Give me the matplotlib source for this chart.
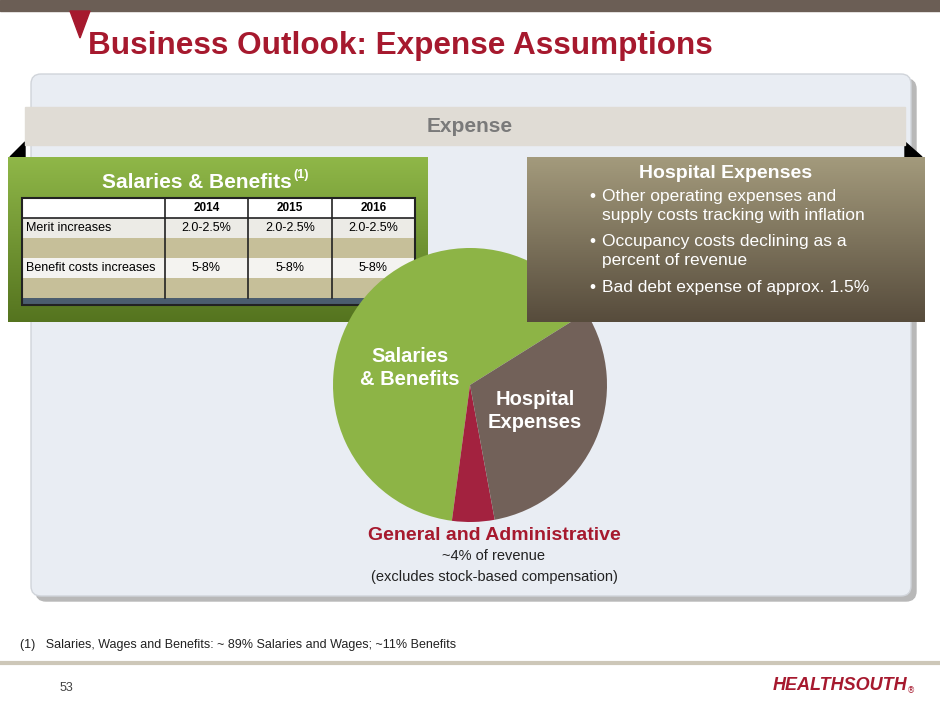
import numpy as np
import matplotlib.pyplot as plt
from matplotlib.patches import Rectangle, FancyBboxPatch, Polygon

# data
pie_labels = ['Salaries\n& Benefits', 'General and Administrative', 'Hospital\nExpenses']
pie_values = [64, 5, 31]
pie_colors = ['#8db446', '#a3223f', '#726159']
years = ['2014', '2015', '2016']
table_rows = ['Merit increases', '', 'Benefit costs increases', '']
table_vals = [['2.0-2.5%', '2.0-2.5%', '2.0-2.5%'], ['', '', ''], ['5-8%', '5-8%', '5-8%'], ['', '', '']]
hosp_bullets = ['Other operating expenses and\nsupply costs tracking with inflation',
                'Occupancy costs declining as a\npercent of revenue',
                'Bad debt expense of approx. 1.5%']

W, H = 940, 705
fig = plt.figure(figsize=(9.4, 7.05), dpi=100)


def page_axes():
    a = fig.add_axes([0, 0, 1, 1])
    a.set_xlim(0, W)
    a.set_ylim(H, 0)
    a.axis('off')
    a.patch.set_alpha(0)
    return a


def grad_box(a, x0, y0, w, h, c1, c2):
    g = np.linspace(0, 1, 64)[:, None]
    c1 = np.array(plt.matplotlib.colors.to_rgb(c1))
    c2 = np.array(plt.matplotlib.colors.to_rgb(c2))
    img = (1 - g)[..., None] * c1 + g[..., None] * c2
    img = np.repeat(img, 2, axis=1)
    a.imshow(img, extent=(x0, x0 + w, y0 + h, y0), aspect='auto', zorder=1)
    a.set_xlim(0, W)
    a.set_ylim(H, 0)


ax = page_axes()
red = '#a6192e'
ax.add_patch(Rectangle((0, 0), W, 11, color='#6b5e55'))
ax.add_patch(Polygon([(70, 11), (90, 11), (80, 38)], color=red))
ax.text(88, 46, 'Business Outlook: Expense Assumptions', color=red, fontsize=22.7,
        fontweight='bold', va='center', family='Liberation Sans')

# main panel
ax.add_patch(FancyBboxPatch((36, 79), 880, 522, boxstyle='round,pad=0,rounding_size=10',
                            color='#b8b8b8'))
ax.add_patch(FancyBboxPatch((31, 74), 880, 522, boxstyle='round,pad=0,rounding_size=10',
                            fc='#e9edf3', ec='#d0d4da'))
ax.add_patch(Polygon([(10, 157), (25, 142), (25, 157)], color='black'))
ax.add_patch(Polygon([(905, 142), (922, 157), (905, 157)], color='black'))
ax.add_patch(Rectangle((25, 107), 880, 38, color='#e0dcd5'))
ax.text(470, 126, 'Expense', color='#7a7a7a', fontsize=15, fontweight='bold',
        ha='center', va='center', family='Liberation Sans')

grad_box(ax, 8, 157, 420, 165, '#8fb748', '#55741f')

ax.text(197, 182, 'Salaries & Benefits', color='white', fontsize=15, fontweight='bold',
        ha='center', va='center', family='Liberation Sans', zorder=3)
ax.text(293, 175, '(1)', color='white', fontsize=9, fontweight='bold',
        ha='left', va='center', family='Liberation Sans', zorder=3)

# table
tx = [22, 165, 248, 332, 415]
ty = [198, 218, 238, 258, 278, 298, 305]
row_cols = ['#ecebe6', '#c6bf99', '#f4f3f0', '#c6bf99']
ax.add_patch(Rectangle((tx[0], ty[0]), tx[-1] - tx[0], ty[1] - ty[0], fc='white', zorder=3))
for i, name in enumerate(table_rows):
    ax.add_patch(Rectangle((tx[0], ty[i + 1]), tx[-1] - tx[0], 20, fc=row_cols[i], zorder=3))
    ax.text(tx[0] + 4, ty[i + 1] + 10, name, fontsize=9, va='center', zorder=4,
            family='Liberation Sans')
    for j, v in enumerate(table_vals[i]):
        ax.text((tx[j + 1] + tx[j + 2]) / 2, ty[i + 1] + 10, v, fontsize=9, ha='center',
                va='center', zorder=4, family='Liberation Sans')
for j, y in enumerate(years):
    ax.text((tx[j + 1] + tx[j + 2]) / 2, 208, y, fontsize=8.5, fontweight='bold', ha='center',
            va='center', zorder=4, family='Liberation Sans')
ax.add_patch(Rectangle((tx[0], ty[5]), tx[-1] - tx[0], 7, fc='#4b5d6e', zorder=3))
ax.add_patch(Rectangle((tx[0], ty[0]), tx[-1] - tx[0], ty[-1] - ty[0], fill=False, ec='#222222',
                       lw=1.5, zorder=5))
ax.plot([tx[0], tx[-1]], [ty[1], ty[1]], color='#222222', lw=1.2, zorder=5)
for x in tx[1:-1]:
    ax.plot([x, x], [ty[0], ty[5]], color='#222222', lw=1.2, zorder=5)

ax.text(494, 536, pie_labels[1], color=red, fontsize=14, fontweight='bold', ha='center',
        va='center', family='Liberation Sans')
ax.text(494, 556, '~4% of revenue', fontsize=10.5, ha='center', va='center',
        family='Liberation Sans', color='#222222')
ax.text(494, 577, '(excludes stock-based compensation)', fontsize=10.5, ha='center',
        va='center', family='Liberation Sans', color='#222222')

# footer
ax.text(20, 645, '(1)   Salaries, Wages and Benefits: ~ 89% Salaries and Wages; ~11% Benefits',
        fontsize=9, va='center', family='Liberation Sans', color='#222222')
ax.plot([0, W], [663, 663], color='#cdc7b8', lw=3)
ax.text(60, 688, '53', fontsize=9, va='center', family='Liberation Sans', color='#444444')
ax.text(840, 686, 'HEALTHSOUTH', fontsize=13, fontweight='bold', style='italic', color=red,
        ha='center', va='center', family='Liberation Sans')
ax.text(911, 691, '®', fontsize=6, color=red, ha='center', va='center')

# pie
cx, cy, r = 470, 385, 137
pax = fig.add_axes([(cx - r) / W, (H - cy - r) / H, 2 * r / W, 2 * r / H])
pax.pie(pie_values, colors=pie_colors, startangle=32, counterclock=True,
        wedgeprops=dict(lw=0))
pax.set_xlim(-1, 1)
pax.set_ylim(-1, 1)
pax.set_aspect('equal')
pax.axis('off')
pax.text(410, 368, pie_labels[0], color='white', fontsize=14.5, fontweight='bold', ha='center',
         va='center', family='Liberation Sans', linespacing=1.3, transform=ax.transData)
pax.text(535, 411, pie_labels[2], color='white', fontsize=14.5, fontweight='bold', ha='center',
         va='center', family='Liberation Sans', linespacing=1.3, transform=ax.transData)

# hospital box, above the pie
ax2 = page_axes()
grad_box(ax2, 527, 157, 398, 165, '#a39a7c', '#574c3c')
ax2.text(726, 174, 'Hospital Expenses', color='white', fontsize=14, fontweight='bold',
         ha='center', va='center', family='Liberation Sans', zorder=3)
ys = [189, 234, 280]
for y, b in zip(ys, hosp_bullets):
    ax2.text(589, y, '•', color='white', fontsize=12.5, va='top', family='Liberation Sans', zorder=3)
    ax2.text(602, y, b, color='white', fontsize=12.5, va='top', linespacing=1.35,
             family='Liberation Sans', zorder=3)

fig.savefig('out.png', dpi=100)
